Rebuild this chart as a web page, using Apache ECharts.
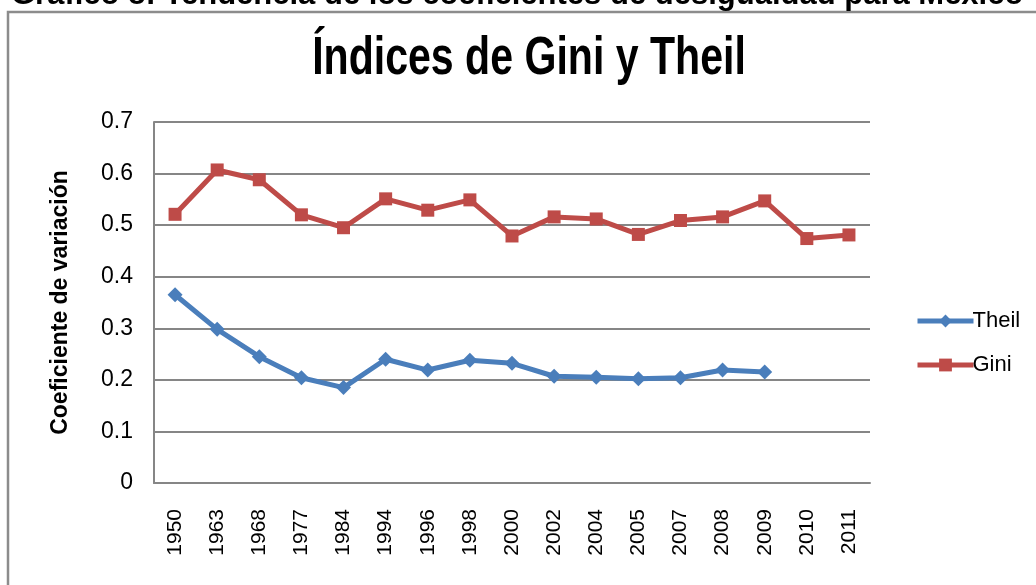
<!DOCTYPE html>
<html>
<head>
<meta charset="utf-8">
<script src="https://cdn.jsdelivr.net/npm/echarts@6/dist/echarts.min.js"></script>
<style>
html, body { margin: 0; padding: 0; background: #fff; }
#chart { width: 1036px; height: 585px; }
</style>
</head>
<body>
<div id="chart"></div>
<script>
// datos
var years = ['1950', '1963', '1968', '1977', '1984', '1994', '1996', '1998', '2000',
             '2002', '2004', '2005', '2007', '2008', '2009', '2010', '2011'];
var theil = [0.365, 0.298, 0.245, 0.204, 0.185, 0.240, 0.219, 0.238, 0.232,
             0.207, 0.205, 0.202, 0.204, 0.219, 0.215, null, null];
var gini = [0.521, 0.607, 0.588, 0.520, 0.495, 0.551, 0.529, 0.549, 0.479,
            0.516, 0.512, 0.482, 0.509, 0.516, 0.547, 0.474, 0.481];

var font = '"Liberation Sans", Arial, sans-serif';

var chart = echarts.init(document.getElementById('chart'));
var option = {
    backgroundColor: '#ffffff',
    animation: false,
    graphic: [
        {
            type: 'rect',
            shape: { x: 8, y: 12, width: 1100, height: 600 },
            style: { fill: 'none', stroke: '#8c8c8c', lineWidth: 2.5 }
        },
        {
            type: 'text',
            left: 11,
            top: -20,
            style: {
                text: 'Gráfico 8: Tendencia de los coeficientes de desigualdad para México',
                font: 'bold 31px ' + font,
                fill: '#000'
            }
        },
        // título: letra condensada
        {
            type: 'text',
            x: 529,
            y: 86,
            scaleX: 0.775,
            style: {
                text: 'Índices de Gini y Theil',
                font: 'bold 53px ' + font,
                fill: '#000',
                textAlign: 'center',
                textVerticalAlign: 'bottom'
            }
        }
    ],
    legend: {
        orient: 'vertical',
        left: 910,
        top: 305,
        itemWidth: 56,
        itemHeight: 16,
        itemGap: 22,
        lineStyle: { width: 5 },
        textStyle: { fontFamily: font, fontSize: 22, color: '#000', padding: [0, 0, 0, -6] },
        data: ['Theil', 'Gini']
    },
    grid: {
        left: 154,
        right: 166,
        top: 122,
        bottom: 102
    },
    xAxis: {
        type: 'category',
        data: years,
        boundaryGap: true,
        axisTick: { show: false },
        axisLine: { lineStyle: { color: '#868686', width: 2 } },
        axisLabel: {
            rotate: 90,
            margin: 26,
            fontFamily: font,
            fontSize: 21,
            color: '#000',
            interval: 0
        }
    },
    yAxis: {
        type: 'value',
        min: 0,
        max: 0.7,
        interval: 0.1,
        name: 'Coeficiente de variación',
        nameLocation: 'middle',
        nameGap: 82,
        nameTextStyle: {
            fontFamily: font,
            fontWeight: 'bold',
            fontSize: 23,
            color: '#000'
        },
        axisTick: { show: false },
        axisLine: { show: true, lineStyle: { color: '#868686', width: 2 } },
        splitLine: { lineStyle: { color: '#868686', width: 2 } },
        axisLabel: {
            margin: 21,
            fontFamily: font,
            fontSize: 23,
            color: '#000',
            formatter: function (v) {
                return String(Math.round(v * 10) / 10);
            }
        }
    },
    series: [
        {
            name: 'Theil',
            type: 'line',
            data: theil,
            symbol: 'diamond',
            symbolSize: 15,
            lineStyle: { color: '#4a7ebb', width: 5 },
            itemStyle: { color: '#4a7ebb' }
        },
        {
            name: 'Gini',
            type: 'line',
            data: gini,
            symbol: 'rect',
            symbolSize: 13,
            lineStyle: { color: '#be4b48', width: 5 },
            itemStyle: { color: '#be4b48' }
        }
    ]
};
chart.setOption(option);
</script>
</body>
</html>
